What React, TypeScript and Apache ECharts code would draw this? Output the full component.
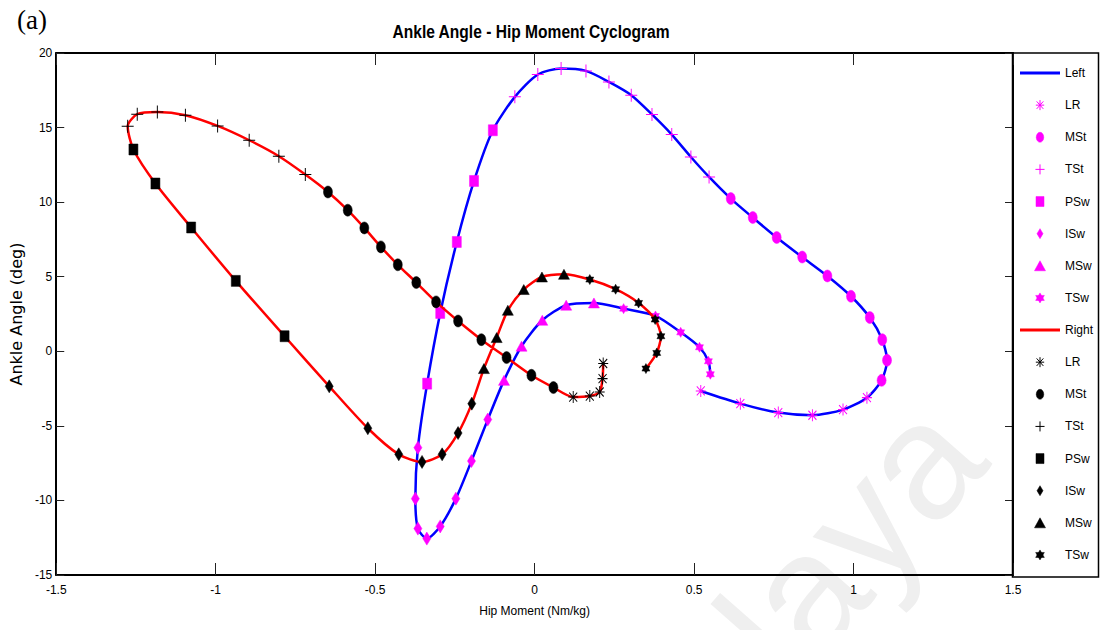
import React, { useEffect, useRef } from "react";
import * as echarts from "echarts";

// ---------- data ----------
const leftLR = [[0.521, -2.66], [0.645, -3.51], [0.764, -4.11], [0.871, -4.29], [0.967, -3.91], [1.042, -3.11]];
const leftMSt = [[1.088, -1.95], [1.105, -0.6], [1.09, 0.78], [1.051, 2.26], [0.992, 3.69], [0.918, 5.05], [0.839, 6.32], [0.759, 7.63], [0.684, 8.97], [0.615, 10.24]];
const leftTSt = [[0.547, 11.69], [0.49, 13.03], [0.43, 14.53], [0.368, 15.88], [0.303, 17.17], [0.233, 18.06], [0.161, 18.8], [0.083, 18.96], [0.01, 18.56], [-0.062, 17.06]];
const leftPSw = [[-0.131, 14.82], [-0.19, 11.42], [-0.244, 7.33], [-0.296, 2.57], [-0.337, -2.17]];
const leftISw = [[-0.366, -6.46], [-0.374, -9.88], [-0.366, -11.89], [-0.338, -12.56], [-0.296, -11.74], [-0.247, -9.88], [-0.198, -7.36], [-0.147, -4.58]];
const leftMSw = [[-0.096, -1.95], [-0.041, 0.34], [0.024, 2.08], [0.099, 3.09], [0.186, 3.24]];
const leftTSw = [[0.279, 2.86], [0.379, 2.37], [0.458, 1.27], [0.517, 0.27], [0.545, -0.67], [0.551, -1.54]];

const rightLR = [[0.215, -0.82], [0.213, -1.83], [0.204, -2.73], [0.173, -3.0], [0.121, -3.07]];
const rightMSt = [[0.059, -2.43], [-0.01, -1.61], [-0.088, -0.42], [-0.167, 0.78], [-0.24, 2.03], [-0.309, 3.31], [-0.371, 4.61], [-0.429, 5.8], [-0.482, 7.0], [-0.534, 8.27], [-0.586, 9.46], [-0.648, 10.68]];
const rightTSt = [[-0.719, 11.85], [-0.802, 13.08], [-0.895, 14.15], [-0.994, 15.11], [-1.095, 15.83], [-1.183, 16.05], [-1.246, 15.9], [-1.276, 15.09]];
const rightPSw = [[-1.258, 13.53], [-1.189, 11.25], [-1.077, 8.3], [-0.937, 4.72], [-0.784, 1.01]];
const rightISw = [[-0.644, -2.35], [-0.523, -5.16], [-0.426, -6.91], [-0.353, -7.42], [-0.29, -6.91], [-0.24, -5.48], [-0.197, -3.51]];
const rightMSw = [[-0.159, -1.16], [-0.119, 0.92], [-0.084, 2.75], [-0.034, 4.14], [0.023, 4.98], [0.092, 5.16]];
const rightTSw = [[0.173, 4.81], [0.254, 4.16], [0.326, 3.24], [0.378, 2.13], [0.396, 1.01], [0.383, -0.11], [0.349, -1.16]];

const phases = ["LR", "MSt", "TSt", "PSw", "ISw", "MSw", "TSw"];
const xTickLabels = ["-1.5", "-1", "-0.5", "0", "0.5", "1", "1.5"];
const yTickLabels = ["-15", "-10", "-5", "0", "5", "10", "15", "20"];

// ---------- styles ----------
const SANS = "'Liberation Sans', Arial, sans-serif";
const BLUE = "#0000ff";
const RED = "#ff0000";
const MAGENTA = "#ff00ff";
const BLACK = "#000000";

const P = {
  LR: "path://M0,-1.2V1.2M-1,0H1M-0.8,-0.9L0.8,0.9M-0.8,0.9L0.8,-0.9",
  MSt: "path://M0,-1.2A0.9,1.2 0 1,1 0,1.2A0.9,1.2 0 1,1 0,-1.2Z",
  TSt: "path://M-1,0H1M0,-1.1V1.1",
  PSw: "path://M-0.8,-1H0.8V1H-0.8Z",
  ISw: "path://M0,-1.5L0.9,0L0,1.5L-0.9,0Z",
  MSw: "path://M0,-1L1.1,1H-1.1Z",
  TSw: "path://M0,-1L0.866,0.5L-0.866,0.5Z M0,1L-0.866,-0.5L0.866,-0.5Z",
};
const LINE_ICON = "path://M0,0H40V3H0Z";

const SIZES: Record<string, number[]> = {
  LR: [10, 12],
  MSt: [9, 12],
  TSt: [12, 13],
  PSw: [9, 11],
  ISw: [8, 13],
  MSw: [11, 10],
  TSw: [8, 10],
};
const STROKED: Record<string, boolean> = { LR: true, TSt: true };

export default function App() {
  const ref = useRef<HTMLDivElement>(null);

  useEffect(() => {
    if (!ref.current) return;
    const chart = echarts.init(ref.current, undefined, { renderer: "svg" });

    const leftSets = [leftLR, leftMSt, leftTSt, leftPSw, leftISw, leftMSw, leftTSw];
    const rightSets = [rightLR, rightMSt, rightTSt, rightPSw, rightISw, rightMSw, rightTSw];
    const leftAll = leftSets.flat();
    const rightAll = rightSets.flat();

    const scatter = (sets: number[][][], side: string, color: string, z: number) =>
      phases.map((ph, i) => ({
        name: ph + "_" + side,
        type: "scatter",
        data: sets[i],
        symbol: P[ph as keyof typeof P],
        symbolSize: SIZES[ph],
        z,
        itemStyle: {
          color: color,
          borderColor: color,
          borderWidth: STROKED[ph] ? 1 : 0.5,
          opacity: 1,
        },
        emphasis: { disabled: true },
      }));

    const legendItems = (side: string, color: string) =>
      phases.map((ph) => ({
        name: ph + "_" + side,
        icon: P[ph as keyof typeof P],
        itemStyle: { color, borderColor: color, borderWidth: STROKED[ph] ? 1 : 0.5 },
      }));

    const series: any[] = [
      {
        name: "Left",
        type: "line",
        data: leftAll,
        symbol: "none",
        smooth: 0.25,
        color: BLUE,
        lineStyle: { color: BLUE, width: 2.5 },
        itemStyle: { color: BLUE },
        z: 2,
        emphasis: { disabled: true },
      },
      ...scatter(leftSets, "L", MAGENTA, 3),
      {
        name: "Right",
        type: "line",
        data: rightAll,
        symbol: "none",
        smooth: 0.25,
        color: RED,
        lineStyle: { color: RED, width: 2.5 },
        itemStyle: { color: RED },
        z: 4,
        emphasis: { disabled: true },
      },
      ...scatter(rightSets, "R", BLACK, 5),
    ];

    const tickLabelStyle = { color: BLACK, fontFamily: SANS, fontSize: 12 };

    chart.setOption({
      animation: false,
      backgroundColor: "#ffffff",
      grid: { left: 49, right: 88, top: 53, bottom: 55, show: false, containLabel: false },
      xAxis: [
        {
          type: "value",
          min: -1.5,
          max: 1.5,
          interval: 0.5,
          position: "bottom",
          name: "Hip Moment (Nm/kg)",
          nameLocation: "middle",
          nameGap: 30,
          nameTextStyle: { fontFamily: SANS, fontSize: 12, color: BLACK },
          axisLine: { show: true, onZero: false, lineStyle: { color: BLACK, width: 2 } },
          axisTick: { show: true, inside: true, length: 12, lineStyle: { color: "#222", width: 1 } },
          axisLabel: {
            ...tickLabelStyle,
            margin: 9,
            formatter: (v: number) => xTickLabels[Math.round((v + 1.5) / 0.5)] ?? "",
          },
          splitLine: { show: false },
        },
        {
          type: "value",
          min: -1.5,
          max: 1.5,
          interval: 0.5,
          position: "top",
          axisLine: { show: true, onZero: false, lineStyle: { color: BLACK, width: 2 } },
          axisTick: { show: true, inside: true, length: 12, lineStyle: { color: "#222", width: 1 } },
          axisLabel: { show: false },
          splitLine: { show: false },
        },
      ],
      yAxis: [
        {
          type: "value",
          min: -15,
          max: 20,
          interval: 5,
          position: "left",
          name: "Ankle Angle (deg)",
          nameLocation: "middle",
          nameGap: 25,
          nameTextStyle: { fontFamily: "'DejaVu Sans', sans-serif", fontSize: 16, color: BLACK },
          axisLine: { show: true, onZero: false, lineStyle: { color: BLACK, width: 2 } },
          axisTick: { show: true, inside: true, length: 8, lineStyle: { color: "#222", width: 1 } },
          axisLabel: {
            ...tickLabelStyle,
            margin: 4,
            formatter: (v: number) => yTickLabels[Math.round((v + 15) / 5)] ?? "",
          },
          splitLine: { show: false },
        },
        {
          type: "value",
          min: -15,
          max: 20,
          interval: 5,
          position: "right",
          axisLine: { show: true, onZero: false, lineStyle: { color: BLACK, width: 2 } },
          axisTick: { show: true, inside: true, length: 8, lineStyle: { color: "#222", width: 1 } },
          axisLabel: { show: false },
          splitLine: { show: false },
        },
      ],
      legend: {
        orient: "vertical",
        left: 1020,
        top: 66,
        padding: 0,
        itemWidth: 40,
        itemHeight: 10,
        itemGap: 18.13,
        selectedMode: false,
        textStyle: { fontFamily: SANS, fontSize: 12, color: BLACK, lineHeight: 14 },
        formatter: (name: string) => name.replace(/_[LR]$/, ""),
        data: [
          { name: "Left", icon: LINE_ICON, itemStyle: { color: BLUE, borderWidth: 0 } },
          ...legendItems("L", MAGENTA),
          { name: "Right", icon: LINE_ICON, itemStyle: { color: RED, borderWidth: 0 } },
          ...legendItems("R", BLACK),
        ],
      },
      graphic: [
        {
          type: "text",
          z: -5,
          x: 850,
          y: 540,
          rotation: 0.85,
          style: {
            text: "laya",
            fontFamily: SANS,
            fontSize: 165,
            fill: "#efefef",
            align: "center",
            verticalAlign: "middle",
          },
          silent: true,
        },
        {
          type: "rect",
          z: 10,
          shape: { x: 1012.5, y: 53, width: 86, height: 524 },
          style: { fill: "none", stroke: BLACK, lineWidth: 1.5 },
          silent: true,
        },
        {
          type: "text",
          x: 531,
          y: 31,
          scaleX: 0.82,
          style: {
            text: "Ankle Angle - Hip Moment Cyclogram",
            fontFamily: SANS,
            fontWeight: "bold",
            fontSize: 19,
            fill: BLACK,
            align: "center",
            verticalAlign: "middle",
          },
          silent: true,
        },
        {
          type: "text",
          x: 17,
          y: 6,
          style: {
            text: "(a)",
            fontFamily: "'Liberation Serif', 'Times New Roman', serif",
            fontSize: 27,
            fill: BLACK,
          },
          silent: true,
        },
      ],
      series,
    });

    return () => chart.dispose();
  }, []);

  return (
    <div
      ref={ref}
      style={{ position: "fixed", left: 0, top: 0, width: 1101, height: 630, background: "#fff" }}
    />
  );
}
